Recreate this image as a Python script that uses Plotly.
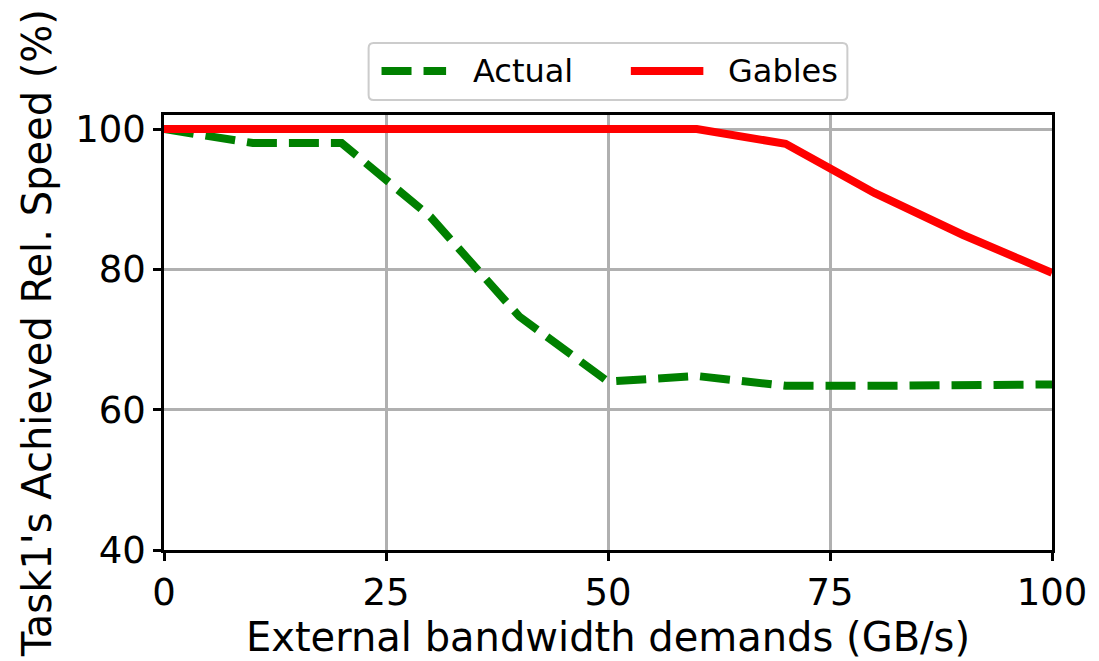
import plotly.graph_objects as go

bandwidth = [0, 10, 20, 30, 40, 50, 60, 70, 80, 90, 100]
actual = [100, 98.0, 98.0, 87.5, 73.3, 64.0, 64.8, 63.4, 63.4, 63.5, 63.6]
gables = [100, 100, 100, 100, 100, 100, 100, 97.9, 90.9, 84.9, 79.5]

x_ticks = [0, 25, 50, 75, 100]
y_ticks = [40, 60, 80, 100]

series_names = ["Actual", "Gables"]
series_colors = ["#008000", "#ff0000"]
series_dash = ["30px,12px", "solid"]

FONT = "DejaVu Sans"

# plot area in pixels
L, R, T, B = 164, 1058, 115, 550
W, H = 1099, 661


def px(x):
    return (x - L) / (R - L)


def py(y):
    return (B - y) / (B - T)


fig = go.Figure()
fig.add_trace(go.Scatter(
    x=bandwidth, y=actual, mode="lines", name=series_names[0],
    line=dict(color=series_colors[0], width=8, dash=series_dash[0]),
    showlegend=False,
))
fig.add_trace(go.Scatter(
    x=bandwidth, y=gables, mode="lines", name=series_names[1],
    line=dict(color=series_colors[1], width=8, dash=series_dash[1]),
    showlegend=False,
))

axis_common = dict(
    showline=True, linecolor="black", linewidth=2.5, mirror=True,
    showgrid=True, gridcolor="#b0b0b0", gridwidth=2.5,
    ticks="outside", ticklen=8, tickwidth=2.5, tickcolor="black",
    zeroline=False,
    tickfont=dict(family=FONT, size=37, color="black"),
)

fig.update_xaxes(
    range=[0, 100], tickvals=x_ticks, ticktext=[str(v) for v in x_ticks],
    title=dict(text="External bandwidth demands (GB/s)",
               font=dict(family=FONT, size=40, color="black"), standoff=4),
    **axis_common,
)
fig.update_yaxes(
    range=[40, 102], tickvals=y_ticks, ticktext=[str(v) for v in y_ticks],
    title=dict(text="Task1's Achieved Rel. Speed (%)",
               font=dict(family=FONT, size=40, color="black"), standoff=12),
    **axis_common,
)

# custom legend (box, line samples, labels) in paper coordinates
bx0, bx1, by0, by1 = px(370), px(852), py(100), py(43)
rx, ry = 5 / (R - L), 5 / (B - T)
box_path = (
    f"M {bx0+rx},{by1} L {bx1-rx},{by1} Q {bx1},{by1} {bx1},{by1-ry} "
    f"L {bx1},{by0+ry} Q {bx1},{by0} {bx1-rx},{by0} "
    f"L {bx0+rx},{by0} Q {bx0},{by0} {bx0},{by0+ry} "
    f"L {bx0},{by1-ry} Q {bx0},{by1} {bx0+rx},{by1} Z"
)
shapes = [dict(type="path", xref="paper", yref="paper", path=box_path,
               line=dict(color="#cccccc", width=2), fillcolor="white",
               layer="above")]
ly = py(71)
sample_x = [(383, 448), (634, 707)]
label_x = [473, 730]
annotations = []
for i in range(2):
    shapes.append(dict(type="line", xref="paper", yref="paper",
                       x0=px(sample_x[i][0]), x1=px(sample_x[i][1]), y0=ly, y1=ly,
                       line=dict(color=series_colors[i], width=8, dash=series_dash[i]),
                       layer="above"))
    annotations.append(dict(xref="paper", yref="paper", x=px(label_x[i]), y=ly,
                            xanchor="left", yanchor="middle", showarrow=False,
                            text=series_names[i],
                            font=dict(family=FONT, size=32, color="black")))

fig.update_layout(
    width=W, height=H,
    margin=dict(l=L, r=W - R, t=T, b=H - B),
    paper_bgcolor="white", plot_bgcolor="white",
    font=dict(family=FONT, color="black"),
    showlegend=False,
    shapes=shapes,
    annotations=annotations,
)

fig.write_html("out.html")
